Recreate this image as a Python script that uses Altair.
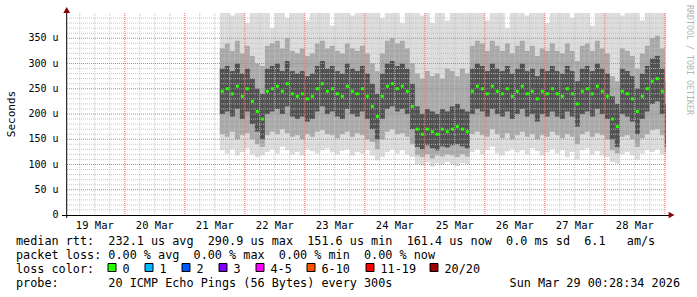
import altair as alt
import pandas as pd

# ---------------- data ----------------
FIRST_HOUR = 62      # first sample: 21 Mar 14:00, hours since 19 Mar 00:00
STEP_HOURS = 2

median_rtt = [245, 250, 240, 255, 235, 250, 225, 205, 190,
              245, 250, 255, 245, 260, 240, 235, 240, 230, 235, 250, 260, 245, 250, 240, 235, 255, 245, 240, 250, 235,
              215, 195, 235, 255, 260, 250, 255, 245, 215,
              170, 160, 170, 165, 160, 170, 165, 170, 175, 170, 165,
              245, 255, 250, 240, 255, 245, 240, 250, 235, 245, 255, 240, 245, 230, 245, 240, 250, 240, 235, 250, 240, 220, 245, 250, 240, 255, 245, 235,
              190, 175, 245, 240, 230, 205, 235, 250, 265, 270, 245, 175]

smoke_min = [128, 122, 130, 118, 125, 132, 120, 115, 118,
             125, 130, 122, 135, 128, 120, 125, 118, 130, 126, 122, 128, 132, 124, 120, 127, 130, 118, 125, 122, 128,
             118, 108, 115, 125, 130, 122, 128, 120, 115,
             100, 98, 104, 96, 102, 99, 105, 100, 97, 103, 100,
             125, 130, 120, 128, 135, 122, 118, 126, 130, 124, 128, 120, 132, 126, 118, 124, 130, 122, 128, 115, 125, 110, 128, 132, 120, 126, 118, 115,
             105, 102, 120, 125, 118, 110, 122, 128, 125, 130, 120, 105]

smoke_q1 = [160, 155, 165, 150, 158, 162, 150, 140, 135,
            158, 165, 160, 170, 162, 155, 158, 150, 160, 155, 165, 168, 160, 158, 152, 160, 165, 155, 162, 158, 150,
            145, 130, 150, 165, 170, 160, 162, 155, 140,
            118, 115, 120, 112, 118, 116, 120, 118, 115, 120, 116,
            160, 165, 158, 155, 170, 160, 152, 162, 150, 158, 165, 155, 160, 150, 158, 155, 165, 158, 152, 160, 155, 140, 160, 165, 155, 162, 158, 150,
            128, 122, 155, 158, 150, 135, 152, 160, 168, 170, 158, 125]

smoke_q2 = [200, 205, 195, 210, 190, 205, 180, 165, 150,
            200, 205, 210, 200, 215, 195, 190, 195, 185, 190, 205, 215, 200, 205, 195, 190, 210, 200, 195, 205, 190,
            170, 150, 190, 210, 215, 205, 210, 200, 170,
            135, 130, 138, 132, 128, 136, 134, 138, 140, 136, 132,
            200, 210, 205, 195, 210, 200, 195, 205, 190, 200, 210, 195, 200, 185, 200, 195, 205, 195, 190, 205, 195, 175, 200, 205, 195, 210, 200, 190,
            150, 135, 200, 195, 185, 160, 190, 205, 220, 225, 200, 135]

smoke_q3 = [290, 295, 285, 300, 280, 290, 270, 250, 240,
            290, 295, 300, 285, 305, 285, 280, 285, 275, 280, 295, 305, 290, 295, 285, 280, 300, 290, 285, 295, 280,
            260, 240, 280, 300, 305, 295, 300, 290, 260,
            215, 200, 210, 205, 200, 210, 205, 215, 220, 210, 205,
            290, 300, 295, 285, 300, 290, 285, 295, 280, 290, 300, 285, 290, 275, 290, 285, 295, 285, 280, 295, 285, 265, 290, 295, 285, 300, 290, 280,
            235, 220, 290, 285, 275, 250, 280, 295, 310, 315, 290, 220]

smoke_q4 = [330, 340, 325, 345, 320, 335, 315, 300, 295,
            335, 340, 345, 330, 350, 325, 320, 330, 315, 320, 340, 345, 330, 335, 325, 320, 340, 330, 325, 335, 320,
            300, 285, 320, 345, 350, 340, 345, 330, 300,
            280, 270, 285, 275, 280, 270, 290, 285, 275, 290, 280,
            335, 345, 340, 325, 345, 335, 325, 340, 320, 335, 345, 325, 335, 315, 330, 325, 340, 325, 320, 340, 325, 305, 335, 340, 325, 345, 330, 320,
            275, 265, 330, 325, 315, 290, 320, 335, 350, 355, 330, 265]

smoke_max = [410, 410, 395, 410, 410, 380, 410, 410, 405,
             410, 370, 410, 410, 390, 410, 410, 410, 385, 410, 410, 410, 410, 375, 410, 410, 410, 395, 410, 410, 410,
             410, 410, 390, 410, 410, 410, 380, 410, 410,
             410, 395, 410, 380, 410, 410, 385, 410, 400, 410, 410,
             410, 410, 410, 385, 410, 410, 410, 370, 410, 410, 410, 395, 410, 410, 410, 380, 410, 410, 410, 410, 390, 410, 410, 410, 375, 410, 410, 410,
             410, 410, 395, 410, 410, 410, 385, 410, 410, 410, 410, 400]

X_DOMAIN = [0.476, 240.476]           # 19 Mar 00:28:34 .. 29 Mar 00:28:34 (hours)
Y_DOMAIN = [0, 400]
day_label_hours = [12 + 24 * d for d in range(10)]
day_labels = ["19 Mar", "20 Mar", "21 Mar", "22 Mar", "23 Mar", "24 Mar", "25 Mar", "26 Mar", "27 Mar", "28 Mar"]
y_tick_values = [0, 50, 100, 150, 200, 250, 300, 350]
y_tick_labels = ["0\u00a0\u00a0", "50\u00a0u", "100\u00a0u", "150\u00a0u", "200\u00a0u",
                 "250\u00a0u", "300\u00a0u", "350\u00a0u"]
minor_y = [v for v in range(10, 400, 10) if v % 50]
major_y = [v for v in range(50, 400, 50)]
minor_x = [h for h in range(6, 241, 6) if h % 24]
major_x = [h for h in range(24, 241, 24)]

info_lines = [
    "median rtt:  232.1 us avg  290.9 us max  151.6 us min  161.4 us now  0.0 ms sd  6.1   am/s",
    "packet loss: 0.00 % avg  0.00 % max  0.00 % min  0.00 % now",
    "loss color:",
    "probe:       20 ICMP Echo Pings (56 Bytes) every 300s",
]
date_stamp = "Sun Mar 29 00:28:34 2026"
loss_labels = ["0", "1", "2", "3", "4-5", "6-10", "11-19", "20/20"]
loss_colors = ["#26ff00", "#00b8ff", "#0059ff", "#7e00ff", "#ff00ff", "#ff5500", "#ff0000", "#a10000"]

# ---------------- layout (pixels, relative to plot origin) ----------------
legend_square_x = [42, 79, 116, 153, 190, 241, 300, 364]
MONO = "DejaVu Sans Mono"

# ---------------- tables ----------------
n = len(median_rtt)
df = pd.DataFrame({
    "t0": [FIRST_HOUR + STEP_HOURS * i for i in range(n)],
    "med": median_rtt, "lo": smoke_min, "q1": smoke_q1, "q2": smoke_q2,
    "q3": smoke_q3, "q4": smoke_q4, "hi": smoke_max,
})
df["t1"] = df["t0"] + STEP_HOURS
df["tm"] = df["t0"] + STEP_HOURS / 2

xs = alt.Scale(domain=X_DOMAIN, nice=False, zero=False)
ys = alt.Scale(domain=Y_DOMAIN, nice=False, zero=False)

base = alt.Chart(df)

def band(lo_field, hi_field, color):
    return base.mark_rect(color=color, clip=True).encode(
        x=alt.X("t0:Q", scale=xs, axis=None), x2="t1:Q",
        y=alt.Y(f"{lo_field}:Q", scale=ys, axis=None), y2=f"{hi_field}:Q")

smoke_light = band("lo", "hi", "#dcdcdc")
smoke_mid = band("q1", "q4", "#a8a8a8")
smoke_dark = band("q2", "q3", "#505050")

def vgrid(vals, color, op):
    return alt.Chart(pd.DataFrame({"h": vals})).mark_rule(
        color=color, strokeDash=[1, 1], strokeWidth=1, opacity=op).encode(
        x=alt.X("h:Q", scale=xs, axis=None))

def hgrid(vals, color, op):
    return alt.Chart(pd.DataFrame({"v": vals})).mark_rule(
        color=color, strokeDash=[1, 1], strokeWidth=1, opacity=op).encode(
        y=alt.Y("v:Q", scale=ys, axis=None))

grid_minor_x = vgrid(minor_x, "#c0c0c0", 0.9)
grid_minor_y = hgrid(minor_y, "#c0c0c0", 0.9)
grid_major_x = vgrid(major_x, "#ff6a6a", 1)
grid_major_y = hgrid(major_y, "#ff6a6a", 1)

median_marks = base.mark_square(color="#26ff00", size=9, opacity=1, clip=True).encode(
    x=alt.X("tm:Q", scale=xs, axis=None), y=alt.Y("med:Q", scale=ys, axis=None))

# tick labels drawn through the scales
x_labels = alt.Chart(pd.DataFrame({"h": day_label_hours, "s": day_labels})).mark_text(
    font=MONO, fontSize=10.5, align="center", baseline="top", color="#000").encode(
    x=alt.X("h:Q", scale=xs, axis=None), y=alt.value(208), text="s:N")
y_labels = alt.Chart(pd.DataFrame({"v": y_tick_values, "s": y_tick_labels})).mark_text(
    font=MONO, fontSize=10, align="right", baseline="middle", color="#000").encode(
    y=alt.Y("v:Q", scale=ys, axis=None), x=alt.value(-7.5), text="s:N")

# axes lines and arrows
y_axis_line = alt.Chart(pd.DataFrame({"a": [0]})).mark_rule(color="#000", strokeWidth=1).encode(
    x=alt.value(0.7), y=alt.value(-2), y2=alt.value(205))
x_axis_line = alt.Chart(pd.DataFrame({"a": [0]})).mark_rule(color="#000", strokeWidth=1).encode(
    x=alt.value(-4), x2=alt.value(604), y=alt.value(202.5))
arrow_up = alt.Chart(pd.DataFrame({"a": [0]})).mark_point(
    shape="triangle-up", filled=True, color="#8b0000", size=45, opacity=1).encode(
    x=alt.value(0.7), y=alt.value(-3))
arrow_right = alt.Chart(pd.DataFrame({"a": [0]})).mark_point(
    shape="triangle-right", filled=True, color="#8b0000", size=45, opacity=1).encode(
    x=alt.value(605.5), y=alt.value(202))

seconds_title = alt.Chart(pd.DataFrame({"s": ["Seconds"]})).mark_text(
    font=MONO, fontSize=11, angle=270, align="center", baseline="middle", color="#000").encode(
    text="s:N", x=alt.value(-54.5), y=alt.value(101))

watermark = alt.Chart(pd.DataFrame({"s": ["RRDTOOL / TOBI OETIKER"]})).mark_text(
    font=MONO, fontSize=8.3, angle=90, align="left", baseline="middle", color="#b4b4b4").encode(
    text="s:N", x=alt.value(622.5), y=alt.value(-8))

line_baselines = [232, 245.6, 260.2, 273.8]
info_layers = []
for txt, yb in zip(info_lines, line_baselines):
    info_layers.append(alt.Chart(pd.DataFrame({"s": [txt.replace(" ", "\u00a0")]})).mark_text(
        font=MONO, fontSize=11.8, align="left", baseline="alphabetic", color="#000").encode(
        text="s:N", x=alt.value(-50), y=alt.value(yb)))
date_layer = alt.Chart(pd.DataFrame({"s": [date_stamp.replace(" ", "\u00a0")]})).mark_text(
    font=MONO, fontSize=11.8, align="right", baseline="alphabetic", color="#000").encode(
    text="s:N", x=alt.value(614), y=alt.value(273.8))

leg = pd.DataFrame({"label": loss_labels, "color": loss_colors, "sx": legend_square_x})
leg["sx2"] = leg["sx"] + 8
leg["tx"] = leg["sx"] + 14.5
legend_boxes = alt.Chart(leg).mark_rect(stroke="#000", strokeWidth=1).encode(
    x=alt.X("sx:Q", scale=None, axis=None), x2="sx2:Q", y=alt.value(250.5), y2=alt.value(258.5),
    color=alt.Color("color:N", scale=None))
legend_text = alt.Chart(leg).mark_text(
    font=MONO, fontSize=11.8, align="left", baseline="alphabetic", color="#000").encode(
    x=alt.X("tx:Q", scale=None, axis=None), y=alt.value(260.2), text="label:N")

chart = alt.layer(
    smoke_light, smoke_mid, smoke_dark,
    grid_minor_x, grid_minor_y, grid_major_x, grid_major_y,
    median_marks,
    x_labels, y_labels,
    y_axis_line, x_axis_line, arrow_up, arrow_right,
    seconds_title, watermark, *info_layers, date_layer, legend_boxes, legend_text,
).properties(
    width=600, height=202,
    padding={"left": 66, "top": 13, "right": 31, "bottom": 82},
    autosize=alt.AutoSizeParams(type="none"),
    background="white",
).configure_view(stroke=None)

chart.save("out.html", embed_options={"renderer": "svg", "actions": False})
